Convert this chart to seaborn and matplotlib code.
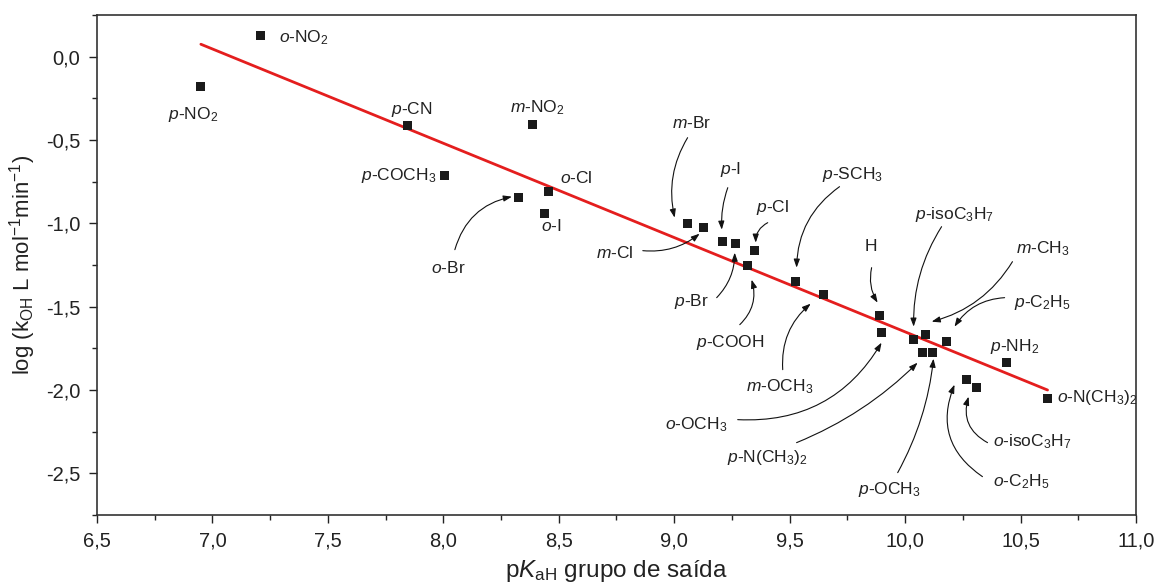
import numpy as np
import pandas as pd
import matplotlib
matplotlib.use("Agg")
import matplotlib.pyplot as plt
import seaborn as sns
from matplotlib.ticker import MultipleLocator, FuncFormatter

# ---------------- data ----------------
names = ["p-NO2", "o-NO2", "p-CN", "m-NO2", "p-COCH3", "o-Br", "o-Cl", "o-I",
         "m-Br", "m-Cl", "p-I", "p-Br", "p-Cl", "p-COOH", "p-SCH3", "m-OCH3",
         "H", "o-OCH3", "p-isoC3H7", "m-CH3", "p-C2H5", "p-N(CH3)2", "p-OCH3",
         "p-NH2", "o-C2H5", "o-isoC3H7", "o-N(CH3)2"]
pka = [6.95, 7.21, 7.846, 8.387, 8.006, 8.327, 8.457, 8.44,
       9.058, 9.128, 9.21, 9.266, 9.348, 9.318, 9.526, 9.647,
       9.89, 9.898, 10.037, 10.089, 10.18, 10.076, 10.12,
       10.44, 10.266, 10.31, 10.617]
logk = [-0.18, 0.126, -0.414, -0.408, -0.714, -0.846, -0.81, -0.94,
        -1.0, -1.026, -1.11, -1.12, -1.16, -1.254, -1.35, -1.43,
        -1.554, -1.656, -1.70, -1.668, -1.71, -1.777, -1.777,
        -1.836, -1.94, -1.986, -2.05]

df = pd.DataFrame({"name": names, "pka": pka, "logk": logk})

# label text for each substituent
label_text = {
    "p-NO2": r"$\it{p}$-NO$_2$", "o-NO2": r"$\it{o}$-NO$_2$", "p-CN": r"$\it{p}$-CN",
    "m-NO2": r"$\it{m}$-NO$_2$", "p-COCH3": r"$\it{p}$-COCH$_3$", "o-Br": r"$\it{o}$-Br",
    "o-Cl": r"$\it{o}$-Cl", "o-I": r"$\it{o}$-I", "m-Br": r"$\it{m}$-Br", "m-Cl": r"$\it{m}$-Cl",
    "p-I": r"$\it{p}$-I", "p-Br": r"$\it{p}$-Br", "p-Cl": r"$\it{p}$-Cl",
    "p-COOH": r"$\it{p}$-COOH", "p-SCH3": r"$\it{p}$-SCH$_3$", "m-OCH3": r"$\it{m}$-OCH$_3$",
    "H": "H", "o-OCH3": r"$\it{o}$-OCH$_3$", "p-isoC3H7": r"$\it{p}$-isoC$_3$H$_7$",
    "m-CH3": r"$\it{m}$-CH$_3$", "p-C2H5": r"$\it{p}$-C$_2$H$_5$",
    "p-N(CH3)2": r"$\it{p}$-N(CH$_3$)$_2$", "p-OCH3": r"$\it{p}$-OCH$_3$",
    "p-NH2": r"$\it{p}$-NH$_2$", "o-C2H5": r"$\it{o}$-C$_2$H$_5$",
    "o-isoC3H7": r"$\it{o}$-isoC$_3$H$_7$", "o-N(CH3)2": r"$\it{o}$-N(CH$_3$)$_2$",
}

# layout: text position (x, y, ha), arrow tail, arrow head, curvature
label_pos = {
    "p-NO2": (6.916, -0.348, "center"), "o-NO2": (7.288, 0.114, "left"),
    "p-CN": (7.864, -0.318, "center"), "m-NO2": (8.405, -0.306, "center"),
    "p-COCH3": (7.972, -0.714, "right"), "o-Cl": (8.578, -0.726, "center"),
    "o-I": (8.47, -1.014, "center"), "o-Br": (8.02, -1.266, "center"),
    "m-Br": (9.076, -0.396, "center"), "m-Cl": (8.742, -1.176, "center"),
    "p-I": (9.245, -0.678, "center"), "p-Cl": (9.426, -0.906, "center"),
    "p-Br": (9.076, -1.47, "center"), "p-COOH": (9.245, -1.716, "center"),
    "p-SCH3": (9.773, -0.708, "center"), "m-OCH3": (9.457, -1.98, "center"),
    "H": (9.851, -1.14, "center"), "o-OCH3": (9.097, -2.208, "center"),
    "p-N(CH3)2": (9.405, -2.406, "center"), "p-OCH3": (9.933, -2.598, "center"),
    "p-isoC3H7": (10.214, -0.948, "center"), "m-CH3": (10.595, -1.152, "center"),
    "p-C2H5": (10.595, -1.476, "center"), "p-NH2": (10.474, -1.74, "center"),
    "o-isoC3H7": (10.552, -2.31, "center"), "o-C2H5": (10.504, -2.55, "center"),
    "o-N(CH3)2": (10.656, -2.046, "left"),
}
arrows = {
    "o-Br": ((8.05, -1.158), (8.297, -0.84), -0.3),
    "m-Br": ((9.058, -0.486), (9.002, -0.966), 0.2),
    "m-Cl": ((8.864, -1.164), (9.11, -1.062), 0.2),
    "p-I": ((9.232, -0.786), (9.206, -1.038), 0.1),
    "p-Cl": ((9.405, -0.996), (9.353, -1.116), 0.3),
    "p-Br": ((9.184, -1.446), (9.262, -1.176), 0.2),
    "p-COOH": ((9.284, -1.608), (9.335, -1.338), 0.3),
    "p-SCH3": ((9.716, -0.78), (9.53, -1.266), 0.25),
    "m-OCH3": ((9.47, -1.878), (9.591, -1.482), -0.25),
    "H": ((9.855, -1.266), (9.881, -1.476), 0.2),
    "o-OCH3": ((9.275, -2.178), (9.898, -1.716), 0.3),
    "p-N(CH3)2": ((9.53, -2.316), (10.054, -1.836), 0.1),
    "p-OCH3": ((9.968, -2.496), (10.123, -1.812), 0.1),
    "p-isoC3H7": ((10.158, -1.02), (10.037, -1.62), 0.15),
    "m-CH3": ((10.465, -1.23), (10.115, -1.59), -0.2),
    "p-C2H5": ((10.431, -1.446), (10.214, -1.62), 0.25),
    "o-isoC3H7": ((10.357, -2.316), (10.275, -2.04), -0.4),
    "o-C2H5": ((10.335, -2.52), (10.214, -1.968), -0.4),
}

# ---------------- style ----------------
sns.set_style("ticks")
plt.rcParams["font.family"] = ["Liberation Sans", "DejaVu Sans"]
plt.rcParams["mathtext.fontset"] = "custom"
plt.rcParams["mathtext.rm"] = "Liberation Sans"
plt.rcParams["mathtext.it"] = "Liberation Sans:italic"
plt.rcParams["mathtext.bf"] = "Liberation Sans:bold"

fig, ax = plt.subplots(figsize=(11.6, 5.87), dpi=100)
fig.subplots_adjust(left=0.0836, right=0.9793, top=0.9744, bottom=0.1227)

# regression line (red)
sns.regplot(data=df, x="pka", y="logk", ax=ax, scatter=False, ci=None,
            truncate=True, color="#e41e1e", line_kws={"lw": 2})
# points
sns.scatterplot(data=df, x="pka", y="logk", ax=ax, marker="s", s=42,
                color="#1a1a1a", edgecolor="none", zorder=5)

# labels and arrows
for name in names:
    tx, ty, ha = label_pos[name]
    ax.text(tx, ty, label_text[name], ha=ha, va="center", fontsize=12.5,
            color="#222222")
    if name in arrows:
        tail, head, rad = arrows[name]
        ax.annotate("", xy=head, xytext=tail,
                    arrowprops=dict(arrowstyle="-|>,head_length=0.5,head_width=0.18",
                                    color="#111111", lw=0.8, shrinkA=0, shrinkB=0,
                                    connectionstyle=f"arc3,rad={rad}"))

# axes
ax.set_xlim(6.5, 11.0)
ax.set_ylim(-2.75, 0.25)
ax.xaxis.set_major_locator(MultipleLocator(0.5))
ax.xaxis.set_minor_locator(MultipleLocator(0.25))
ax.yaxis.set_major_locator(MultipleLocator(0.5))
ax.yaxis.set_minor_locator(MultipleLocator(0.25))
comma = FuncFormatter(lambda v, p: f"{v:.1f}".replace(".", ","))
ax.xaxis.set_major_formatter(comma)
ax.yaxis.set_major_formatter(comma)
ax.tick_params(which="major", direction="out", length=6, width=1, pad=6,
               labelsize=14.5, colors="#222222", top=False, right=False)
ax.tick_params(which="minor", direction="out", length=3.5, width=1,
               colors="#222222", top=False, right=False)
for sp in ax.spines.values():
    sp.set_visible(True)
    sp.set_color("#333333")
    sp.set_linewidth(1.2)

ax.set_xlabel(r"p$\it{K}$$_{\rm aH}$ grupo de saída", fontsize=17.5, color="#222222",
              labelpad=5)
ax.set_ylabel(r"log (k$_{\rm OH}$ L mol$^{-1}$min$^{-1}$)", fontsize=16,
              color="#222222", labelpad=6)

fig.savefig("out.png", dpi=100)
